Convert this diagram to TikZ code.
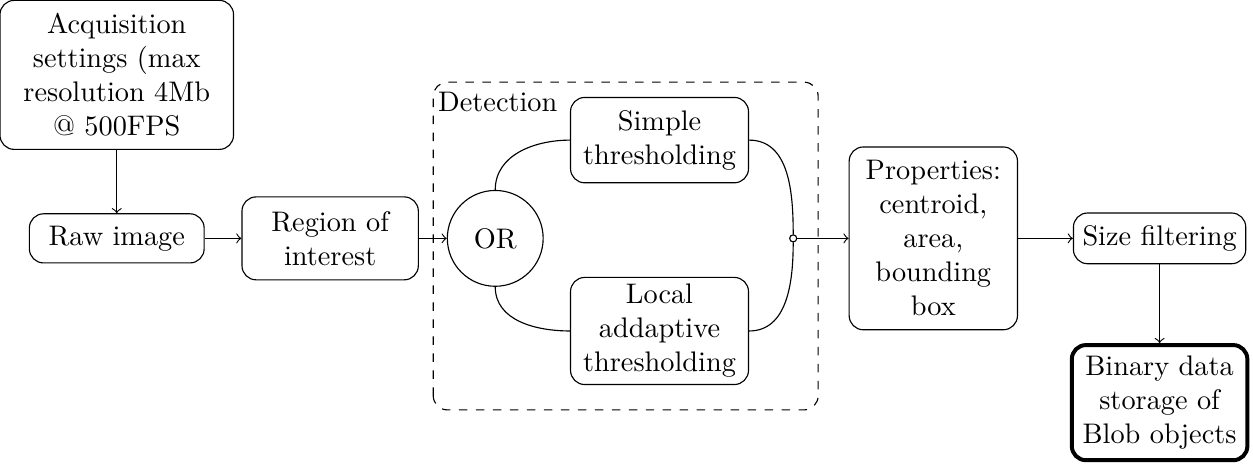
\documentclass[tikz,border=0pt]{standalone}
\usetikzlibrary{positioning}

\begin{document}
\begin{tikzpicture}[box/.style={draw,rounded corners=5pt,align=center,inner sep=2pt},junction/.style={draw,circle,inner sep=0pt,minimum size=2.5pt},>=to]
\useasboundingbox (0,0) rectangle (15.56,5.79);

\node[box,minimum width=2.9cm,minimum height=1.85cm] (acq) at (1.45,4.86) {Acquisition\\settings (max\\resolution 4Mb\\@ 500FPS};
\node[box,minimum width=2.17cm,minimum height=0.61cm] (raw) at (1.45,2.83) {Raw image};
\node[box,minimum width=2.19cm,minimum height=1.03cm] (roi) at (4.10,2.83) {Region of\\interest};
\node[draw,circle,minimum size=1.19cm,inner sep=0pt] (or) at (6.15,2.83) {OR};
\node[box,minimum width=2.21cm,minimum height=1.06cm] (simple) at (8.19,4.05) {Simple\\thresholding};
\node[box,minimum width=2.21cm,minimum height=1.33cm] (local) at (8.19,1.68) {Local\\addaptive\\thresholding};
\node[junction] (junc) at (9.85,2.83) {};
\node[box,minimum width=2.09cm,minimum height=2.27cm] (props) at (11.59,2.83) {Properties:\\centroid,\\area,\\bounding\\box};
\node[box,minimum width=2.14cm,minimum height=0.63cm] (size) at (14.40,2.83) {Size filtering};
\node[box,line width=1.4pt,minimum width=2.18cm,minimum height=1.43cm] (binary) at (14.40,0.79) {Binary data\\storage of\\Blob objects};

% detection block
\draw[dashed,rounded corners=5pt] (5.38,0.70) rectangle (10.16,4.77);
\node[anchor=north west,inner sep=1pt] (det) at (5.40,4.69) {Detection};

\foreach \a/\b in {acq/raw,raw/roi,roi/or,junc/props,props/size,size/binary} {
  \draw[->] (\a) -- (\b);
}
\draw (or.north) to[out=90,in=180] (simple.west);
\draw (or.south) to[out=-90,in=180] (local.west);
\draw (simple.east) to[out=0,in=90] (junc);
\draw (local.east) to[out=0,in=-90] (junc);
\end{tikzpicture}
\end{document}
